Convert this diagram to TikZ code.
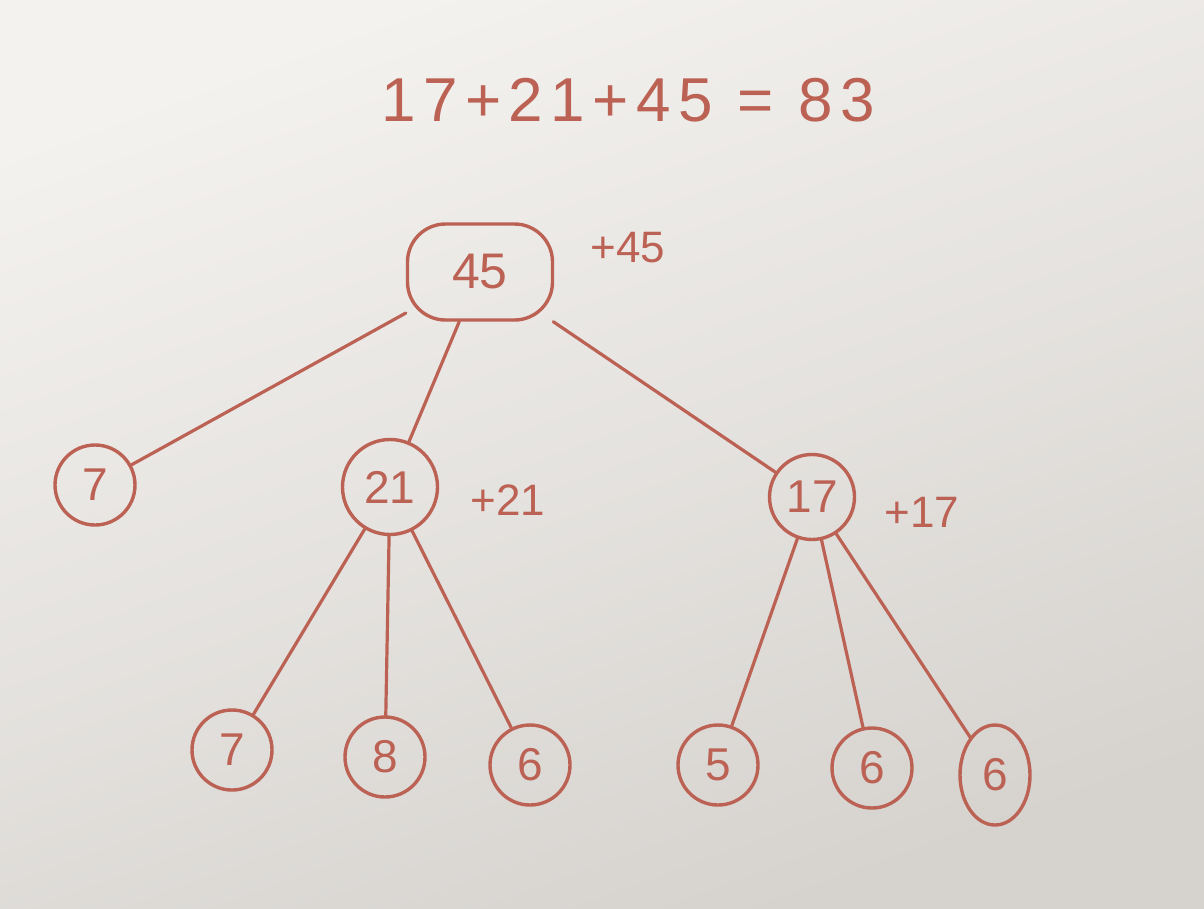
\documentclass[tikz,border=0pt]{standalone}
\usepackage{fontspec}
\usetikzlibrary{shapes.geometric}
\setmainfont{Liberation Sans}
\definecolor{ink}{RGB}{188,98,84}
\definecolor{paperA}{RGB}{244,242,239}
\definecolor{paperB}{RGB}{214,211,207}
\tikzset{
  nd/.style={draw=ink, line width=3.4pt, circle, minimum size=80pt, inner sep=0pt, text=ink, font=\fontsize{46}{46}\selectfont},
  rootnd/.style={draw=ink, line width=3.4pt, rounded corners=38pt, minimum width=145pt, minimum height=96pt, inner sep=0pt, text=ink, font=\fontsize{50}{50}\selectfont},
  lbl/.style={text=ink, font=\fontsize{44}{44}\selectfont, inner sep=0pt},
  edge/.style={draw=ink, line width=3.2pt, line cap=round}
}
\begin{document}
\begin{tikzpicture}[x=1pt,y=-1pt]
\shade[top color=paperA, bottom color=paperB, shading angle=20] (0,0) rectangle (1204,908);
\useasboundingbox (0,0) rectangle (1204,908);
\node[lbl, font=\fontsize{62}{62}\selectfont\addfontfeature{LetterSpace=12}] (title) at (628,100) {17+21+45 = 83};
\node[rootnd] (r) at (480,272) {45};
\node[lbl] (lr) at (628,248) {+45};
\node[nd] (a) at (95,485) {7};
\node[nd, minimum size=95pt] (b) at (390,487) {21};
\node[lbl] (lb) at (508,500) {+21};
\node[nd, minimum size=85pt] (c) at (812,497) {17};
\node[lbl] (lc) at (922,512) {+17};
\node[nd] (b1) at (232,750) {7};
\node[nd] (b2) at (385,757) {8};
\node[nd] (b3) at (530,765) {6};
\node[nd] (c1) at (718,765) {5};
\node[nd] (c2) at (872,768) {6};
\node[nd, ellipse, minimum size=0pt, minimum width=70pt, minimum height=100pt] (c3) at (995,775) {6};
\draw[edge] (r) -- (a);
\draw[edge] (r) -- (b);
\draw[edge] (r) -- (c);
\draw[edge] (b) -- (b1);
\draw[edge] (b) -- (b2);
\draw[edge] (b) -- (b3);
\draw[edge] (c) -- (c1);
\draw[edge] (c) -- (c2);
\draw[edge] (c) -- (c3);
\end{tikzpicture}
\end{document}
